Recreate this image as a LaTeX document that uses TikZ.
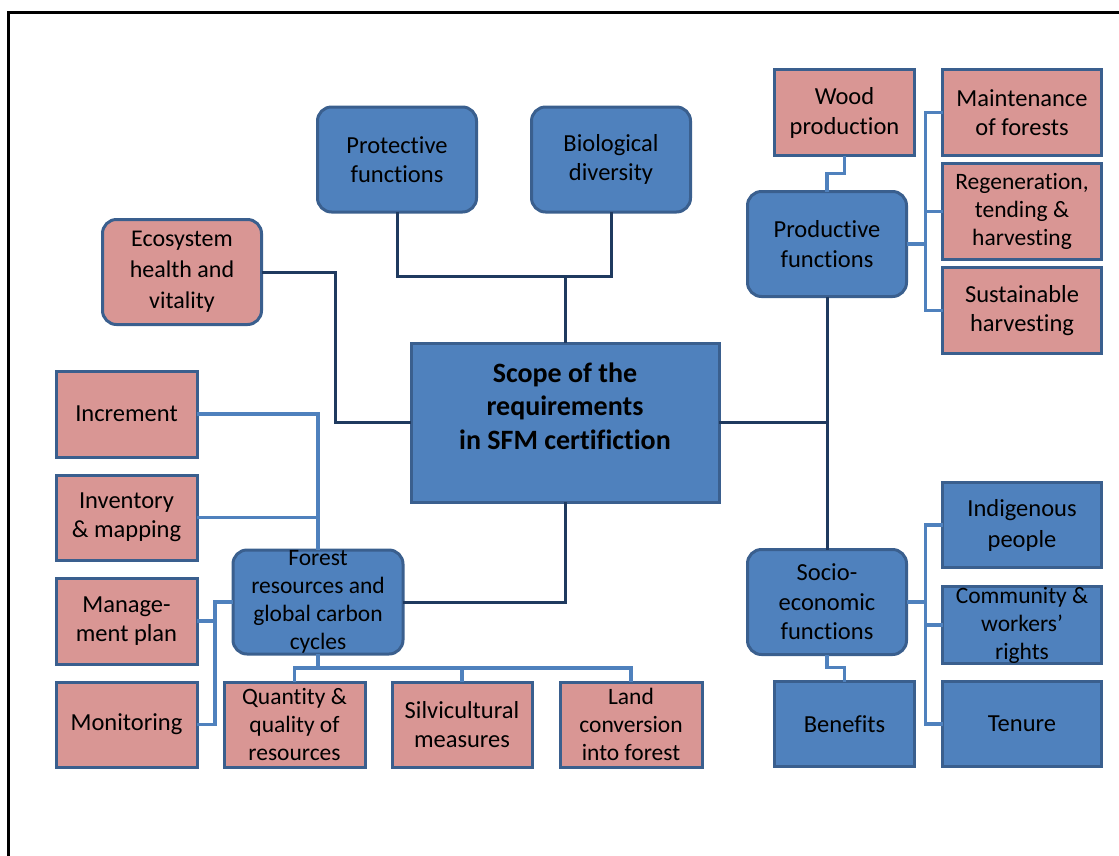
\documentclass[tikz,border=0pt]{standalone}
\usepackage{fontspec}
\setmainfont[Ligatures=NoCommon]{Carlito}
\usetikzlibrary{positioning,calc}

\definecolor{boxblue}{HTML}{4F81BD}
\definecolor{boxpink}{HTML}{D99694}
\definecolor{boxedge}{HTML}{3A5F8E}
\definecolor{darkline}{HTML}{1F3A5F}
\definecolor{lightline}{HTML}{4F81BD}

\begin{document}
\begin{tikzpicture}[x=1pt, y=-1pt, auto]

% Define styles
\tikzstyle{func} = [rectangle, rounded corners=14pt, text centered, align=center, draw=boxedge, fill=boxblue, line width=3pt, outer sep=0pt, font=\fontsize{24.5}{29.5}\selectfont, minimum width=159pt, minimum height=105pt, inner sep=0pt]
\tikzstyle{redfunc} = [func, fill=boxpink]
\tikzstyle{scopebox} = [rectangle, text centered, align=center, draw=boxedge, fill=boxblue, line width=3pt, outer sep=0pt, font=\fontsize{28}{33.5}\selectfont\bfseries, minimum width=308pt, minimum height=159pt]
\tikzstyle{item} = [rectangle, text centered, align=center, draw=boxedge, fill=boxpink, line width=3pt, outer sep=0pt, font=\fontsize{24.5}{29}\selectfont, minimum width=141pt, minimum height=86pt, inner sep=0pt]
\tikzstyle{blueitem} = [item, fill=boxblue]
\tikzstyle{small} = [font=\fontsize{23.5}{28}\selectfont]
\tikzstyle{line} = [line width=3pt, color=darkline]
\tikzstyle{subline} = [line width=3.5pt, color=lightline]

\useasboundingbox (0,0) rectangle (1119,855);
\draw [line width=3pt] (8,12) rectangle (1140,880);

% Centre
\node (scope) [scopebox] at (565,422.5) {Scope of the\\requirements\\in SFM certifiction\\ \mbox{}};

% Top functions
\node (prot) [func, above=131pt of scope, xshift=-168pt] {Protective\\functions};
\node (bio) [func, above=131pt of scope, xshift=46pt] {Biological\\diversity};
\node (eco) [redfunc, left=56pt of prot, yshift=-112.5pt, font=\fontsize{24}{31}\selectfont] {Ecosystem\\health and\\vitality};

% Productive functions
\node (prod) [func, right=57pt of bio, yshift=-84.5pt] {Productive\\functions};
\node (wood) [item, above=36pt of prod, xshift=17.5pt, minimum width=140pt, font=\fontsize{24.5}{30}\selectfont] {Wood\\production};
\node (maint) [item, right=28pt of wood, minimum width=159pt] {Maintenance\\of forests};
\node (regen) [item, small, below=8pt of maint, minimum width=159pt, minimum height=96pt] {Regeneration,\\tending \&\\harvesting};
\node (sust) [item, below=8pt of regen, minimum width=159pt] {Sustainable\\harvesting};

% Socio-economic functions
\node (socio) [func, below=253pt of prod] {Socio-\\economic\\functions};
\node (indig) [blueitem, right=36pt of socio, yshift=77pt, minimum width=159pt, minimum height=85pt, font=\fontsize{24.5}{31}\selectfont] {Indigenous\\people};
\node (comm) [blueitem, small, below=19pt of indig, minimum width=159pt, minimum height=77pt] {Community \&\\workers'\\rights};
\node (tenure) [blueitem, below=18pt of comm, minimum width=159pt, minimum height=85pt] {Tenure};
\node (benef) [blueitem, left=28pt of tenure, minimum width=140pt, minimum height=85pt] {Benefits};

% Forest resources
\node (forest) [func, small, below=48pt of scope, xshift=-247pt, minimum width=170pt, minimum height=104pt] {Forest\\resources and\\global carbon\\cycles};
\node (quant) [item, small, below=28pt of forest, xshift=-23.5pt, minimum height=85pt] {Quantity \&\\quality of\\resources};
\node (silv) [item, right=27pt of quant, minimum width=140pt, minimum height=85pt] {Silvicultural\\measures};
\node (land) [item, small, right=28pt of silv, minimum width=142pt, minimum height=85pt] {Land\\conversion\\into forest};
\node (monit) [item, left=27pt of quant, minimum height=85pt] {Monitoring};
\node (mgmt) [item, above=18pt of monit] {Manage-\\ment plan};
\node (inv) [item, above=18pt of mgmt, minimum height=85pt] {Inventory\\\& mapping};
\node (incr) [item, above=18pt of inv] {Increment};

% Main connections
\coordinate (topjoin) at ($(scope.north)+(0,67pt)$);
\draw [line] (prot.south) |- (topjoin) -| (bio.south);
\draw [line] (topjoin) -- (scope.north);
\draw [line] (eco.east) -- ++(74pt,0) |- (scope.west);
\draw [line] (prod.south) -- (socio.north);
\draw [line] (scope.east) -- (scope.east -| prod.south);
\draw [line] (scope.south) |- (forest.east);

% Productive branches
\draw [subline] (wood.south) -- ++(0,-18pt) -| (prod.north);
\draw [subline] (prod.east) -- ++(19pt,0) |- (maint.west);
\draw [subline] (prod.east) -- ++(19pt,0) |- (regen.west);
\draw [subline] (prod.east) -- ++(19pt,0) |- (sust.west);

% Socio-economic branches
\draw [subline] (socio.east) -- ++(19pt,0) |- (indig.west);
\draw [subline] (socio.east) -- ++(19pt,0) |- (comm.west);
\draw [subline] (socio.east) -- ++(19pt,0) |- (tenure.west);
\draw [subline] (socio.south) -- ++(0,-13pt) -| (benef.north);

% Forest resources branches
\draw [subline] (incr.east) -| (forest.north);
\draw [subline] (inv.east) -| (forest.north);
\draw [subline] (forest.west) -- ++(-18pt,0) |- (mgmt.east);
\draw [subline] (forest.west) -- ++(-18pt,0) |- (monit.east);
\draw [subline] (forest.south) -- ++(0,-14pt) -| (quant.north);
\draw [subline] (forest.south) -- ++(0,-14pt) -| (silv.north);
\draw [subline] (forest.south) -- ++(0,-14pt) -| (land.north);

\end{tikzpicture}
\end{document}
